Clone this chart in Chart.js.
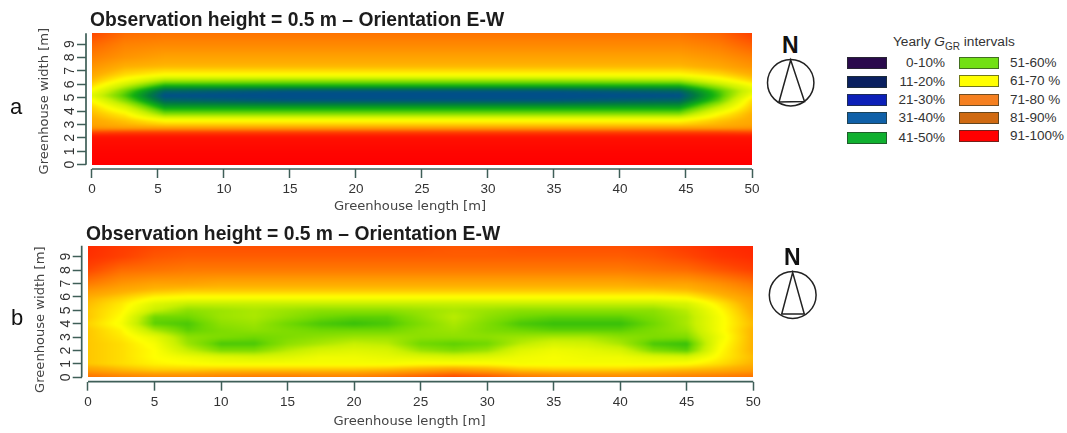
<!DOCTYPE html>
<html>
<head>
<meta charset="utf-8">
<title>Yearly GGR maps</title>
<script src="https://cdn.jsdelivr.net/npm/chart.js@4/dist/chart.umd.min.js"></script>
<style>
  html, body { margin: 0; padding: 0; background: #fff; }
  body { position: relative; width: 1067px; height: 433px; overflow: hidden; font-family: "Liberation Sans", Arial, sans-serif; }
  canvas, svg, .txt, .swatch { position: absolute; }
  .txt { white-space: nowrap; color: #222; }
  .letter { font-size: 22px; color: #111; }
  .north { font-size: 23px; font-weight: bold; color: #111; }
  .item { font-size: 13.5px; color: #333; }
  .swatch { width: 38px; height: 10px; border: 1px solid; }
  sub { font-size: 10px; line-height: 0; }
</style>
</head>
<body>
<canvas id="panel-a" width="780" height="215" style="left:0;top:0"></canvas>
<canvas id="panel-b" width="780" height="218" style="left:0;top:215px"></canvas>

<div class="txt letter" style="left:10px;top:94px">a</div>
<div class="txt letter" style="left:11px;top:305px">b</div>

<div class="txt north" style="left:782px;top:32px">N</div>
<svg style="left:760px;top:55px" width="62" height="56" fill="none" stroke="#222" stroke-width="1.5">
  <circle cx="30.7" cy="27.7" r="23.2"/>
  <path d="M30.7 5 L19 47 L44.5 46.5 Z"/>
</svg>
<div class="txt north" style="left:784px;top:244px">N</div>
<svg style="left:762px;top:267px" width="62" height="56" fill="none" stroke="#222" stroke-width="1.5">
  <circle cx="30.7" cy="28" r="23.4"/>
  <path d="M30.7 5.5 L19.7 47 L42.3 47 Z"/>
</svg>

<div class="txt" style="left:893px;top:34px;font-size:13.7px;color:#333">Yearly <i>G</i><sub>GR</sub> intervals</div>
<div id="legend"></div>

<script>
'use strict';

// ── Data ─────────────────────────────────────────────────────────────────────

const chartTitle = 'Observation height = 0.5 m \u2013 Orientation E-W';
const xAxisTitle = 'Greenhouse length [m]';
const yAxisTitle = 'Greenhouse width [m]';
const xTickValues = [0, 5, 10, 15, 20, 25, 30, 35, 40, 45, 50];
const yTickValues = [0, 1, 2, 3, 4, 5, 6, 7, 8, 9];

const legendLabels = ['0-10%', '11-20%', '21-30%', '31-40%', '41-50%', '51-60%', '61-70 %', '71-80 %', '81-90%', '91-100%'];
const legendColors = ['#2a0a4c', '#0a2060', '#0c20b8', '#1060a8', '#10b030', '#72e014', '#ffff00', '#f58020', '#d06a12', '#ff0000'];

// yearly GGR (%) -> colour of the map
const rampValues = [35, 41, 47, 52, 58, 65, 72, 80, 88, 100];
const rampColors = ['#004f88', '#007a40', '#10b010', '#70d800', '#c8f000', '#ffff00', '#ffb000', '#ff7a00', '#ff4000', '#ff0000'];

const panelAX = [0, 2.5, 5.5, 15, 25, 35, 44.5, 47.5, 50];
const panelAY = [0, 1, 2, 2.2, 2.45, 2.7, 2.95, 3.3, 3.8, 4.3, 4.8, 5.15, 5.5, 5.9, 6.3, 6.7, 7.3, 8, 9, 9.8];
const panelAValues = [
  [100, 100, 100, 100, 100, 100, 100, 100, 100],
  [ 99,  99,  99,  99,  99,  99,  99,  99,  99],
  [ 97,  97,  97,  97,  97,  97,  97,  97,  97],
  [ 94,  94,  94,  94,  94,  94,  94,  94,  94],
  [ 86,  87,  87,  87,  87,  87,  87,  87,  86],
  [ 77,  76,  76,  76,  76,  76,  76,  76,  77],
  [ 74,  72,  70,  70,  70,  70,  70,  72,  74],
  [ 73,  70,  65,  65,  65,  65,  65,  70,  73],
  [ 71,  66,  53,  53,  53,  53,  53,  65,  72],
  [ 69,  60,  45,  45,  45,  45,  45,  58,  70],
  [ 65,  53,  38,  36,  36,  36,  38,  51,  68],
  [ 61,  50,  35,  34,  34,  34,  35,  49,  64],
  [ 64,  52,  38,  36,  36,  36,  38,  50,  61],
  [ 68,  58,  47,  47,  47,  47,  47,  56,  64],
  [ 71,  64,  56,  55,  55,  55,  56,  63,  69],
  [ 73,  68,  65,  65,  65,  65,  65,  68,  72],
  [ 76,  72,  71,  71,  71,  71,  71,  73,  76],
  [ 79,  76,  74,  74,  74,  74,  74,  76,  79],
  [ 83,  79,  78,  78,  78,  78,  78,  80,  84],
  [ 87,  82,  81,  81,  81,  81,  81,  83,  88]
];

const panelBX = [0, 2.5, 5, 7.5, 10, 12.5, 15, 17.5, 20, 22.5, 25, 27.5, 30, 32.5, 35, 37.5, 40, 42.5, 45, 47.5, 50];
const panelBY = [0, 0.5, 1, 1.5, 2, 2.5, 3, 3.5, 4, 4.5, 5, 5.5, 5.9, 6.5, 7, 8, 9, 9.82];
const panelBValues = [
  [82, 80, 79, 79, 80, 81, 81, 80, 80, 82, 85, 88, 86, 82, 80, 79, 79, 79, 80, 81, 82],
  [75, 72, 70, 70, 71, 71, 71, 71, 71, 72, 74, 76, 74, 71, 70, 70, 70, 71, 72, 73, 75],
  [70, 68, 66, 65, 64, 64, 64, 64, 64, 64, 65, 65, 65, 64, 64, 64, 64, 64, 65, 68, 72],
  [70, 68, 65, 63, 61, 60, 61, 63, 63, 62, 61, 60, 61, 63, 64, 63, 63, 61, 60, 66, 71],
  [70, 68, 65, 58, 53, 53, 57, 60, 61, 60, 55, 53, 55, 61, 63, 62, 60, 53, 51, 65, 72],
  [70, 68, 64, 55, 50, 50, 54, 56, 58, 57, 52, 51, 52, 57, 60, 59, 56, 50, 49, 64, 72],
  [70, 67, 62, 54, 53, 52, 53, 54, 55, 55, 54, 54, 54, 55, 56, 56, 54, 53, 53, 63, 72],
  [70, 66, 56, 51, 53, 54, 53, 52, 52, 52, 54, 55, 53, 52, 51, 51, 51, 53, 55, 64, 72],
  [69, 64, 51, 50, 54, 55, 52, 50, 49, 50, 53, 56, 53, 50, 49, 49, 49, 52, 56, 64, 71],
  [70, 65, 52, 52, 55, 56, 54, 52, 51, 51, 54, 57, 54, 52, 51, 51, 51, 53, 56, 64, 72],
  [70, 66, 58, 54, 55, 56, 55, 54, 54, 54, 55, 56, 55, 54, 54, 54, 54, 54, 57, 65, 73],
  [71, 67, 61, 58, 58, 58, 58, 58, 58, 58, 58, 58, 58, 58, 58, 58, 58, 58, 60, 67, 74],
  [72, 69, 65, 64, 64, 64, 64, 64, 64, 64, 64, 64, 64, 64, 64, 64, 64, 64, 65, 70, 75],
  [76, 73, 71, 70, 70, 70, 70, 70, 70, 70, 70, 70, 70, 70, 70, 70, 70, 70, 71, 74, 78],
  [80, 76, 74, 74, 73, 73, 73, 73, 73, 73, 73, 73, 73, 73, 73, 73, 73, 74, 74, 77, 81],
  [87, 82, 81, 80, 80, 80, 80, 80, 80, 80, 80, 80, 80, 80, 80, 80, 80, 81, 82, 85, 88],
  [91, 88, 85, 84, 84, 84, 84, 84, 84, 84, 84, 84, 84, 84, 84, 84, 84, 85, 87, 90, 92],
  [92, 89, 87, 86, 86, 86, 86, 86, 86, 86, 86, 85, 85, 86, 86, 86, 86, 87, 89, 92, 93]
];

// ── Colour helpers ───────────────────────────────────────────────────────────

function hexToRgb(hex) {
  return [1, 3, 5].map(i => parseInt(hex.slice(i, i + 2), 16));
}
const rampRgb = rampColors.map(hexToRgb);

function valueToRgb(v) {
  if (v <= rampValues[0]) return rampRgb[0];
  for (let i = 1; i < rampValues.length; i++) {
    if (v <= rampValues[i]) {
      const t = (v - rampValues[i - 1]) / (rampValues[i] - rampValues[i - 1]);
      return rampRgb[i].map((c, k) => rampRgb[i - 1][k] + (c - rampRgb[i - 1][k]) * t);
    }
  }
  return rampRgb[rampRgb.length - 1];
}

function bracket(list, v) {
  let i = 0;
  while (i < list.length - 2 && v > list[i + 1]) i++;
  const t = Math.min(1, Math.max(0, (v - list[i]) / (list[i + 1] - list[i])));
  return [i, t];
}

// ── Plugin: smooth map between the grid values, placed by the chart's scales ──

const heatmapPlugin = {
  id: 'heatmap',
  beforeDatasetsDraw(chart) {
    const { xs, ys, values } = chart.data.datasets[0].grid;
    const sx = chart.scales.x;
    const sy = chart.scales.y;
    const left = Math.round(sx.getPixelForValue(xs[0]));
    const right = Math.round(sx.getPixelForValue(xs[xs.length - 1]));
    const top = Math.round(sy.getPixelForValue(ys[ys.length - 1]));
    const bottom = Math.round(sy.getPixelForValue(ys[0]));
    const w = right - left;
    const h = bottom - top;

    const off = document.createElement('canvas');
    off.width = w;
    off.height = h;
    const offCtx = off.getContext('2d');
    const img = offCtx.createImageData(w, h);
    for (let py = 0; py < h; py++) {
      const [j, ty] = bracket(ys, sy.getValueForPixel(top + py + 0.5));
      for (let px = 0; px < w; px++) {
        const [i, tx] = bracket(xs, sx.getValueForPixel(left + px + 0.5));
        const low = values[j][i] + (values[j][i + 1] - values[j][i]) * tx;
        const high = values[j + 1][i] + (values[j + 1][i + 1] - values[j + 1][i]) * tx;
        const rgb = valueToRgb(low + (high - low) * ty);
        const o = (py * w + px) * 4;
        img.data[o] = rgb[0];
        img.data[o + 1] = rgb[1];
        img.data[o + 2] = rgb[2];
        img.data[o + 3] = 255;
      }
    }
    offCtx.putImageData(img, 0, 0);

    const ctx = chart.ctx;
    ctx.save();
    ctx.beginPath();
    ctx.rect(left, top, w, h);
    ctx.clip();
    ctx.drawImage(off, left, top);
    ctx.filter = 'blur(1.2px)';
    ctx.drawImage(off, left, top);
    ctx.restore();
  }
};

// ── Plugin: title and axis title offsets, R style axis lines ─────────────────

function shiftScaleTitle(chart, scale, dx, dy) {
  if (scale.shifted) return;
  const drawTitle = scale.drawTitle;
  scale.drawTitle = function () {
    chart.ctx.save();
    chart.ctx.translate(dx, dy);
    drawTitle.call(scale);
    chart.ctx.restore();
  };
  scale.shifted = true;
}

const axisPlugin = {
  id: 'panelAxes',
  afterLayout(chart, args, opts) {
    chart.titleBlock.left = opts.titleLeft;
    shiftScaleTitle(chart, chart.scales.x, opts.xTitleShift, 0);
    shiftScaleTitle(chart, chart.scales.y, 0, opts.yTitleShift);
  },
  afterDraw(chart) {
    const { ctx, chartArea, scales } = chart;
    ctx.save();
    ctx.strokeStyle = '#3f5f58';
    ctx.lineWidth = 1.7;
    ctx.beginPath();
    ctx.moveTo(chartArea.left, scales.y.getPixelForValue(yTickValues[0]));
    ctx.lineTo(chartArea.left, chartArea.top);
    ctx.moveTo(scales.x.getPixelForValue(xTickValues[0]), chartArea.bottom);
    ctx.lineTo(scales.x.getPixelForValue(xTickValues[xTickValues.length - 1]), chartArea.bottom);
    ctx.stroke();
    ctx.restore();
  }
};

// ── Charts ───────────────────────────────────────────────────────────────────

function gridPoints(xs, ys, values) {
  const pts = [];
  ys.forEach((y, j) => xs.forEach((x, i) => pts.push({ x, y, v: values[j][i] })));
  return pts;
}

function drawPanel(id, xs, ys, values, p) {
  new Chart(document.getElementById(id), {
    type: 'scatter',
    data: {
      datasets: [{
        label: 'Yearly GGR',
        data: gridPoints(xs, ys, values),
        grid: { xs, ys, values },
        pointRadius: 0
      }]
    },
    plugins: [heatmapPlugin, axisPlugin],
    options: {
      responsive: false,
      animation: false,
      layout: { padding: { top: p.padTop, right: p.padRight, bottom: 0, left: 0 } },
      plugins: {
        legend: { display: false },
        tooltip: { enabled: false },
        title: {
          display: true,
          text: chartTitle,
          align: 'start',
          color: '#1c1c1c',
          font: { family: '"Liberation Sans", Arial, sans-serif', size: 19.3, weight: 'bold', lineHeight: 1.1 },
          padding: { top: 0, bottom: p.titleGap }
        },
        panelAxes: { titleLeft: p.titleLeft, xTitleShift: p.xTitleShift, yTitleShift: p.yTitleShift }
      },
      scales: {
        x: {
          type: 'linear',
          min: p.xMin,
          max: 50,
          afterFit: s => { s.height = p.xAxisHeight; },
          afterBuildTicks: s => { s.ticks = xTickValues.map(value => ({ value })); },
          border: { display: false },
          grid: { drawOnChartArea: false, tickLength: 9, tickColor: '#3f5f58', tickWidth: 1.5 },
          ticks: {
            autoSkip: false,
            maxRotation: 0,
            padding: 3,
            color: '#333',
            font: { family: '"Liberation Sans", Arial, sans-serif', size: 13.5 },
            callback: v => String(v)
          },
          title: {
            display: true,
            text: xAxisTitle,
            color: '#444',
            font: { family: '"DejaVu Sans", sans-serif', size: 13.1 },
            padding: { top: 0, bottom: p.xTitleBottom }
          }
        },
        y: {
          type: 'linear',
          min: p.yMin,
          max: p.yMax,
          afterFit: s => { s.width = p.yAxisWidth; },
          afterBuildTicks: s => { s.ticks = yTickValues.map(value => ({ value })); },
          border: { display: false },
          grid: { drawOnChartArea: false, tickLength: 9, tickColor: '#3f5f58', tickWidth: 1.5 },
          ticks: {
            autoSkip: false,
            minRotation: 90,
            maxRotation: 90,
            crossAlign: 'center',
            padding: 3,
            color: '#333',
            font: { family: '"Liberation Sans", Arial, sans-serif', size: 14 },
            callback: v => String(v)
          },
          title: {
            display: true,
            text: yAxisTitle,
            color: '#444',
            font: { family: '"DejaVu Sans", sans-serif', size: 13.1 },
            padding: { top: p.yTitleLeft, bottom: 0 }
          }
        }
      }
    }
  });
}

drawPanel('panel-a', panelAX, panelAY, panelAValues, {
  padTop: 10.2, titleGap: 1.9, padRight: 28, xAxisHeight: 46, yAxisWidth: 86,
  xMin: -0.45, yMin: -0.32, yMax: 9.8,
  titleLeft: 90, xTitleShift: -9, yTitleShift: 0, xTitleBottom: 1, yTitleLeft: 37
});

drawPanel('panel-b', panelBX, panelBY, panelBValues, {
  padTop: 9, titleGap: 0.5, padRight: 26.7, xAxisHeight: 51.3, yAxisWidth: 81.7,
  xMin: -0.47, yMin: -0.33, yMax: 9.82,
  titleLeft: 86, xTitleShift: -8, yTitleShift: 6, xTitleBottom: 4, yTitleLeft: 33
});

// ── HTML legend ──────────────────────────────────────────────────────────────

const legendRows = [57, 76, 94, 112, 132, 57, 75, 94, 112, 130];
const legendBox = document.getElementById('legend');
legendLabels.forEach((label, i) => {
  const second = i >= 5;
  const swatch = document.createElement('div');
  swatch.className = 'swatch';
  swatch.style.left = (second ? 959 : 847) + 'px';
  swatch.style.top = legendRows[i] + 'px';
  swatch.style.background = legendColors[i];
  swatch.style.borderColor = 'rgba(40,50,40,0.65)';
  legendBox.appendChild(swatch);

  const text = document.createElement('div');
  text.className = 'txt item';
  text.textContent = label;
  text.style.top = (legendRows[i] - 2) + 'px';
  if (second) text.style.left = '1010px';
  else text.style.right = (1067 - 945) + 'px';
  legendBox.appendChild(text);
});
</script>
</body>
</html>
